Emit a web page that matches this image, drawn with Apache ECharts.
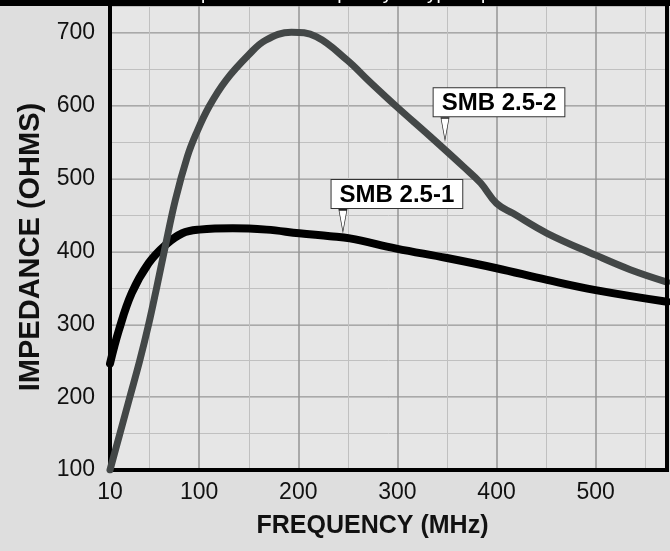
<!DOCTYPE html>
<html>
<head>
<meta charset="utf-8">
<script src="https://cdn.jsdelivr.net/npm/echarts@6/dist/echarts.min.js"></script>
<style>
html,body{margin:0;padding:0;background:#dedede;}
#c{width:670px;height:551px;}
</style>
</head>
<body>
<div id="c"></div>
<script>
// ---- data ----
const freqSMB2 = [10, 20, 30, 40, 49, 57, 65, 76, 88, 97, 110, 127, 150, 167, 193, 218, 249, 272, 299, 333, 367, 384, 400, 417, 451, 500, 535, 572];
const impSMB2  = [100, 150, 200, 250, 300, 350, 402, 471, 530, 562, 599, 635, 670, 690, 701, 695, 663, 633, 599, 558, 516, 494, 466, 452, 425, 395, 375, 358];
const freqSMB1 = [10, 19, 32, 49, 66, 83, 100, 134, 168, 201, 232, 252, 299, 350, 400, 451, 500, 572];
const impSMB1  = [246, 292, 343, 384, 409, 425, 430, 432, 430, 425, 421, 418, 404, 391, 377, 361, 347, 331];
const seriesNames = ['SMB 2.5-2', 'SMB 2.5-1'];
const labelAnchors = [[348, 553], [245, 427]];
const xTickLabels = [10, 100, 200, 300, 400, 500];
const xMajorLines = [100, 200, 300, 400, 500];
const xMinorLines = [50, 150, 250, 350, 450, 550];
const titleText = 'Impedance vs. frequency \u2014 typical performance at 25\u00B0C';

const chart = echarts.init(document.getElementById('c'), null, {renderer: 'canvas'});

function pair(xs, ys){ return xs.map((x, i) => [x, ys[i]]); }

const FONT = 'Liberation Sans, Arial, Helvetica, sans-serif';

function tagPoint(name, coord){
  return {
    coord: coord,
    symbol: 'path://M0,0 L10,0 L5,30 Z',
    symbolSize: [8, 22],
    symbolOffset: [0, '-50%'],
    itemStyle: {color: '#ffffff', borderColor: '#222', borderWidth: 1},
    label: {
      show: true,
      formatter: name,
      position: 'top',
      distance: 1,
      offset: [54, 0],
      color: '#000',
      fontFamily: FONT,
      fontWeight: 'bold',
      fontSize: 24,
      backgroundColor: '#ffffff',
      borderColor: '#333',
      borderWidth: 1,
      padding: [3, 8, 1, 8]
    }
  };
}

const option = {
  backgroundColor: '#dedede',
  animation: false,
  grid: {left: 110, right: 3, top: 6, bottom: 81, show: true, backgroundColor: '#e6e6e6', borderWidth: 0},
  xAxis: [{
    type: 'value', min: 10, max: 572,
    name: 'FREQUENCY (MHz)', nameLocation: 'middle', nameGap: 44,
    nameTextStyle: {color: '#111', fontFamily: FONT, fontWeight: 'bold', fontSize: 25, padding: [0, 32, 0, 0]},
    axisLine: {show: true, lineStyle: {color: '#000', width: 4}},
    axisTick: {show: false, customValues: xMajorLines},
    axisLabel: {customValues: xTickLabels, color: '#111', fontFamily: FONT, fontSize: 23, margin: 11},
    splitLine: {show: true, lineStyle: {color: '#949494', width: 1.5}}
  }, {
    type: 'value', min: 10, max: 572, position: 'bottom',
    axisLine: {show: false},
    axisTick: {show: false, customValues: xMinorLines},
    axisLabel: {show: false},
    splitLine: {show: true, lineStyle: {color: '#c0c0c0', width: 1}}
  }],
  yAxis: [{
    type: 'value', min: 100, max: 737, interval: 100,
    name: 'IMPEDANCE (OHMS)', nameLocation: 'middle', nameGap: 64,
    nameTextStyle: {color: '#111', fontFamily: FONT, fontWeight: 'bold', fontSize: 29, padding: [0, 18, 0, 0]},
    axisLine: {show: true, lineStyle: {color: '#000', width: 4}},
    axisTick: {show: false},
    axisLabel: {color: '#111', fontFamily: FONT, fontSize: 23, margin: 15,
      formatter: v => (v % 100 === 0 ? String(v) : '')},
    splitLine: {show: true, lineStyle: {color: '#949494', width: 1.5}}
  }, {
    type: 'value', min: 100, max: 737, interval: 50, position: 'left',
    axisLine: {show: false}, axisTick: {show: false}, axisLabel: {show: false},
    splitLine: {show: true, lineStyle: {color: '#c0c0c0', width: 1}}
  }],
  series: [{
    name: seriesNames[1], type: 'line', data: pair(freqSMB1, impSMB1),
    smooth: 0.4, showSymbol: false, symbol: 'none',
    lineStyle: {color: '#000', width: 8, cap: 'round', join: 'round'},
    markPoint: {data: [tagPoint(seriesNames[1], labelAnchors[1])], z: 10},
    z: 3
  }, {
    name: seriesNames[0], type: 'line', data: pair(freqSMB2, impSMB2),
    smooth: 0.4, showSymbol: false, symbol: 'none',
    lineStyle: {color: '#434747', width: 7, cap: 'round', join: 'round'},
    markPoint: {data: [tagPoint(seriesNames[0], labelAnchors[0])], z: 10},
    z: 4
  }],
  graphic: [
    {type: 'rect', left: 665, top: 6, shape: {width: 4, height: 466}, style: {fill: '#000'}, z: 100},
    {type: 'rect', left: 0, top: 0, shape: {width: 670, height: 6}, style: {fill: '#000'}, z: 100},
    {type: 'text', x: 180, y: -16, style: {text: titleText, fill: '#fff', font: '19px ' + FONT}, z: 101}
  ]
};
chart.setOption(option);
</script>
</body>
</html>
